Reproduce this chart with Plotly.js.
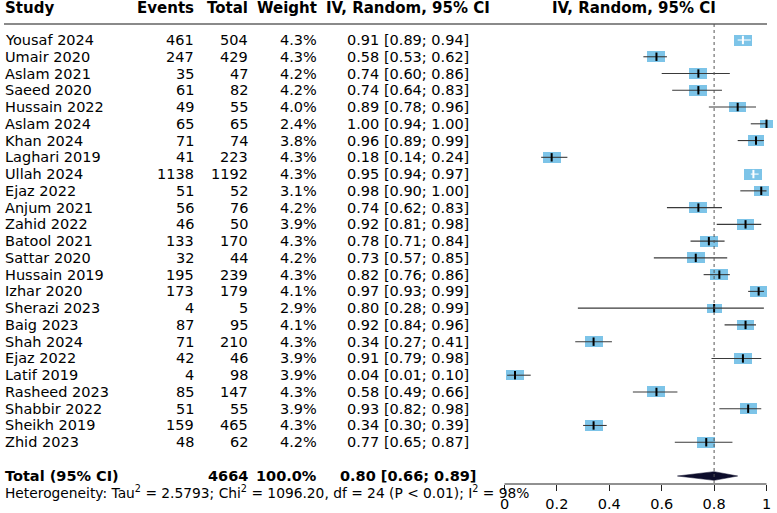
<!DOCTYPE html>
<html>
<head>
<meta charset="utf-8">
<script src="https://cdn.plot.ly/plotly-3.0.1.min.js"></script>
<style>html,body{margin:0;padding:0;background:#fff;}#chart{width:777px;height:513px;}</style>
</head>
<body>
<div id="chart"></div>
<script>
// ---------- data ----------
const studies = ["Yousaf 2024","Umair 2020","Aslam 2021","Saeed 2020","Hussain 2022","Aslam 2024","Khan 2024","Laghari 2019","Ullah 2024","Ejaz 2022","Anjum 2021","Zahid 2022","Batool 2021","Sattar 2020","Hussain 2019","Izhar 2020","Sherazi 2023","Baig 2023","Shah 2024","Ejaz 2022","Latif 2019","Rasheed 2023","Shabbir 2022","Sheikh 2019","Zhid 2023"];
const events  = [461,247,35,61,49,65,71,41,1138,51,56,46,133,32,195,173,4,87,71,42,4,85,51,159,48];
const totals  = [504,429,47,82,55,65,74,223,1192,52,76,50,170,44,239,179,5,95,210,46,98,147,55,465,62];
const weights = [4.3,4.3,4.2,4.2,4.0,2.4,3.8,4.3,4.3,3.1,4.2,3.9,4.3,4.2,4.3,4.1,2.9,4.1,4.3,3.9,3.9,4.3,3.9,4.3,4.2];
const est = [0.91,0.58,0.74,0.74,0.89,1.00,0.96,0.18,0.95,0.98,0.74,0.92,0.78,0.73,0.82,0.97,0.80,0.92,0.34,0.91,0.04,0.58,0.93,0.34,0.77];
const lo  = [0.89,0.53,0.60,0.64,0.78,0.94,0.89,0.14,0.94,0.90,0.62,0.81,0.71,0.57,0.76,0.93,0.28,0.84,0.27,0.79,0.01,0.49,0.82,0.30,0.65];
const hi  = [0.94,0.62,0.86,0.83,0.96,1.00,0.99,0.24,0.97,1.00,0.83,0.98,0.84,0.85,0.86,0.99,0.99,0.96,0.41,0.98,0.10,0.66,0.98,0.39,0.87];
const pooledEst = 0.80, pooledLo = 0.66, pooledHi = 0.89, pooledWeight = 100.0;
const tau2 = "2.5793", chi2 = "1096.20", df = 24, pText = "P &lt; 0.01", i2 = 98;
const tickVals = [0, 0.2, 0.4, 0.6, 0.8, 1];
const tickText = ["0", "0.2", "0.4", "0.6", "0.8", "1"];
const headers = ["Study", "Events", "Total", "Weight", "IV, Random, 95% CI", "IV, Random, 95% CI"];

// ---------- layout constants ----------
const W = 777, H = 513;
const x0px = 504.5, pxPerUnit = 262;
const rowTop = 40, rowStep = 16.76;
const yOf = px => (px - rowTop) / rowStep;
const yRangeTop = yOf(0), yRangeBot = yOf(H);
const xRange = [-0.06, 1.035];
const xDom = [(x0px + pxPerUnit * xRange[0]) / W, (x0px + pxPerUnit * xRange[1]) / W];
const axisPx = 484;
const axisPos = (H - axisPx) / H;
const totalRowY = yOf(476), hetRowY = yOf(492), headerY = yOf(7.5), headerLineY = yOf(24);
const colStudy = 5, colEvents = 194, colTotal = 248, colWeight = 317, colCI = 407.5, colHdr2 = 634;
const boxHalfW = 0.0344, boxH = 0.656, maxW = Math.max(...weights);
const FONT = "DejaVu Sans";
const fs = 14.5, fsH = 15, fsTot = 14.5, fsHet = 13.8;

const rows = studies.map((_, i) => i);
const scale = weights.map(w => Math.sqrt(w / maxW));
const hw = scale.map(s => boxHalfW * s);
const inside = rows.map(i => (est[i] - lo[i]) <= hw[i] && (hi[i] - est[i]) <= hw[i]);

const traces = [];
traces.push({
  type: "bar", orientation: "h",
  y: rows, x: hw.map(h => 2 * h), base: rows.map(i => est[i] - hw[i]),
  width: scale.map(s => boxH * s),
  marker: {color: "#7DC4E8", line: {width: 0}},
  hoverinfo: "skip"
});
function ciTrace(sel, col, lineCol) {
  const idx = rows.filter(i => inside[i] === sel);
  return {
    type: "scatter", mode: "markers",
    x: idx.map(i => est[i]), y: idx,
    marker: {symbol: "line-ns-open", size: 6, line: {width: 2, color: col}, color: col},
    error_x: {type: "data", symmetric: false,
      array: idx.map(i => hi[i] - est[i]), arrayminus: idx.map(i => est[i] - lo[i]),
      width: 0, thickness: 1.1, color: lineCol},
    hoverinfo: "skip", cliponaxis: false
  };
}
traces.push(ciTrace(false, "#000", "#3a3a3a"));
traces.push(ciTrace(true, "#ffffff", "#ffffff"));
const dh = 0.26;
traces.push({
  type: "scatter", mode: "lines", fill: "toself",
  x: [pooledLo, pooledEst, pooledHi, pooledEst, pooledLo],
  y: [totalRowY, totalRowY - dh, totalRowY, totalRowY + dh, totalRowY],
  fillcolor: "#0c0c2a", line: {color: "#0c0c2a", width: 0.5}, hoverinfo: "skip"
});

const ann = [];
function txt(xpx, y, text, anchor, bold, size) {
  ann.push({xref: "paper", yref: "y", x: xpx / W, y: y, text: text, showarrow: false,
    xanchor: anchor, yanchor: "middle", borderpad: 0, borderwidth: 0,
    font: {family: FONT, size: size || fs, color: "#000", weight: bold ? "bold" : "normal"}});
}
txt(colStudy, headerY, headers[0], "left", true, fsH);
txt(colEvents, headerY, headers[1], "right", true, fsH);
txt(colTotal, headerY, headers[2], "right", true, fsH);
txt(colWeight, headerY, headers[3], "right", true, fsH);
txt(colCI, headerY, headers[4], "center", true, fsH);
txt(colHdr2, headerY, headers[5], "center", true, fsH);
const ciStr = (e, l, h) => e.toFixed(2) + " [" + l.toFixed(2) + "; " + h.toFixed(2) + "]";
rows.forEach(i => {
  txt(colStudy, i, studies[i], "left");
  txt(colEvents, i, String(events[i]), "right");
  txt(colTotal, i, String(totals[i]), "right");
  txt(colWeight, i, weights[i].toFixed(1) + "%", "right");
  txt(colCI, i, ciStr(est[i], lo[i], hi[i]), "center");
});
const totalN = totals.reduce((a, b) => a + b, 0);
txt(colStudy, totalRowY, "Total (95% CI)", "left", true, fsTot);
txt(colTotal, totalRowY, String(totalN), "right", true, fsTot);
txt(colWeight, totalRowY, pooledWeight.toFixed(1) + "%", "right", true, fsTot);
txt(colCI, totalRowY, ciStr(pooledEst, pooledLo, pooledHi), "center", true, fsTot);
txt(colStudy, hetRowY, "Heterogeneity: Tau<sup>2</sup> = " + tau2 + "; Chi<sup>2</sup> = " + chi2 +
    ", df = " + df + " (" + pText + "); I<sup>2</sup> = " + i2 + "%", "left", false, fsHet);

const shapes = [
  {type: "line", xref: "paper", yref: "y", x0: 4 / W, x1: 767 / W, y0: headerLineY, y1: headerLineY,
   line: {color: "#8a8a8a", width: 2}},
  {type: "line", xref: "x", yref: "y", x0: pooledEst, x1: pooledEst, y0: headerLineY, y1: yOf(axisPx),
   line: {color: "#555", width: 1, dash: "dot"}},
  {type: "line", xref: "x", yref: "paper", x0: tickVals[0], x1: tickVals[tickVals.length - 1], y0: axisPos, y1: axisPos,
   line: {color: "#222", width: 1}}
];

const layout = {
  width: W, height: H, margin: {l: 0, r: 0, t: 0, b: 0},
  paper_bgcolor: "#fff", plot_bgcolor: "rgba(0,0,0,0)", showlegend: false,
  xaxis: {domain: xDom, range: xRange, anchor: "free", position: axisPos,
    showgrid: false, zeroline: false, showline: false,
    tickmode: "array", tickvals: tickVals, ticktext: tickText,
    ticks: "outside", ticklen: 6, tickwidth: 1, tickcolor: "#222",
    tickfont: {family: FONT, size: 14.5, color: "#000"}, ticklabelstandoff: 1, fixedrange: true},
  yaxis: {domain: [0, 1], range: [yRangeBot, yRangeTop], visible: false, fixedrange: true},
  bargap: 0, annotations: ann, shapes: shapes
};
Plotly.newPlot("chart", traces, layout, {displayModeBar: false, staticPlot: true});
</script>
</body>
</html>
